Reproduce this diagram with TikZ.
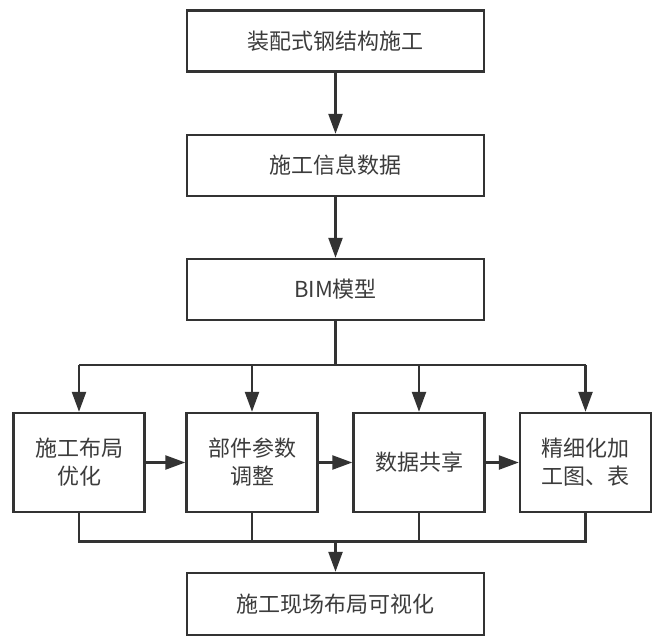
\documentclass[tikz,border=0pt]{standalone}
\usepackage{fontspec}
\setmainfont{Noto Sans CJK SC}
\usetikzlibrary{arrows.meta}
\definecolor{ln}{HTML}{333333}
\definecolor{tx}{HTML}{3C3C3C}
\begin{document}
\begin{tikzpicture}[x=1bp,y=-1bp,
  box/.style={draw=ln,line width=2.4bp,fill=white,text=tx,inner sep=0pt,
    font=\fontsize{22bp}{28bp}\selectfont,align=center},
  wide/.style={box,minimum width=297bp,minimum height=61bp},
  small/.style={box,minimum width=131bp,minimum height=99bp},
  conn/.style={draw=ln,line width=2.4bp},
  arr/.style={conn,-{Triangle[length=20bp,width=14bp]}}]
\useasboundingbox (0,0) rectangle (654,642);
\node[wide] (b1) at (335.5,41) {装配式钢结构施工};
\node[wide] (b2) at (335.5,165.5) {施工信息数据};
\node[wide] (b3) at (335.5,289.5) {BIM模型};
\node[small] (r1) at (79,462.5) {施工布局\\优化};
\node[small] (r2) at (252,462.5) {部件参数\\调整};
\node[small] (r3) at (419,462.5) {数据共享};
\node[small] (r4) at (585.5,462.5) {精细化加\\工图、表};
\node[wide,minimum height=62bp] (b4) at (335.5,604) {施工现场布局可视化};
\coordinate (br) at (335.5,365);
\coordinate (cl) at (335.5,541.5);
\draw[arr] (b1) -- (b2);
\draw[arr] (b2) -- (b3);
\draw[conn] (b3.south) -- (br);
\draw[conn] (r1.north |- br) -- (r4.north |- br);
\foreach \r in {r1,r2,r3,r4} \draw[arr] (\r.north |- br) -- (\r.north);
\draw[arr] (r1) -- (r2);
\draw[arr] (r2) -- (r3);
\draw[arr] (r3) -- (r4);
\draw[conn] (r1.south) -- (r1.south |- cl) -- (r4.south |- cl) -- (r4.south);
\draw[conn] (r2.south) -- (r2.south |- cl);
\draw[conn] (r3.south) -- (r3.south |- cl);
\draw[arr] (cl) -- (b4.north);
\end{tikzpicture}
\end{document}
